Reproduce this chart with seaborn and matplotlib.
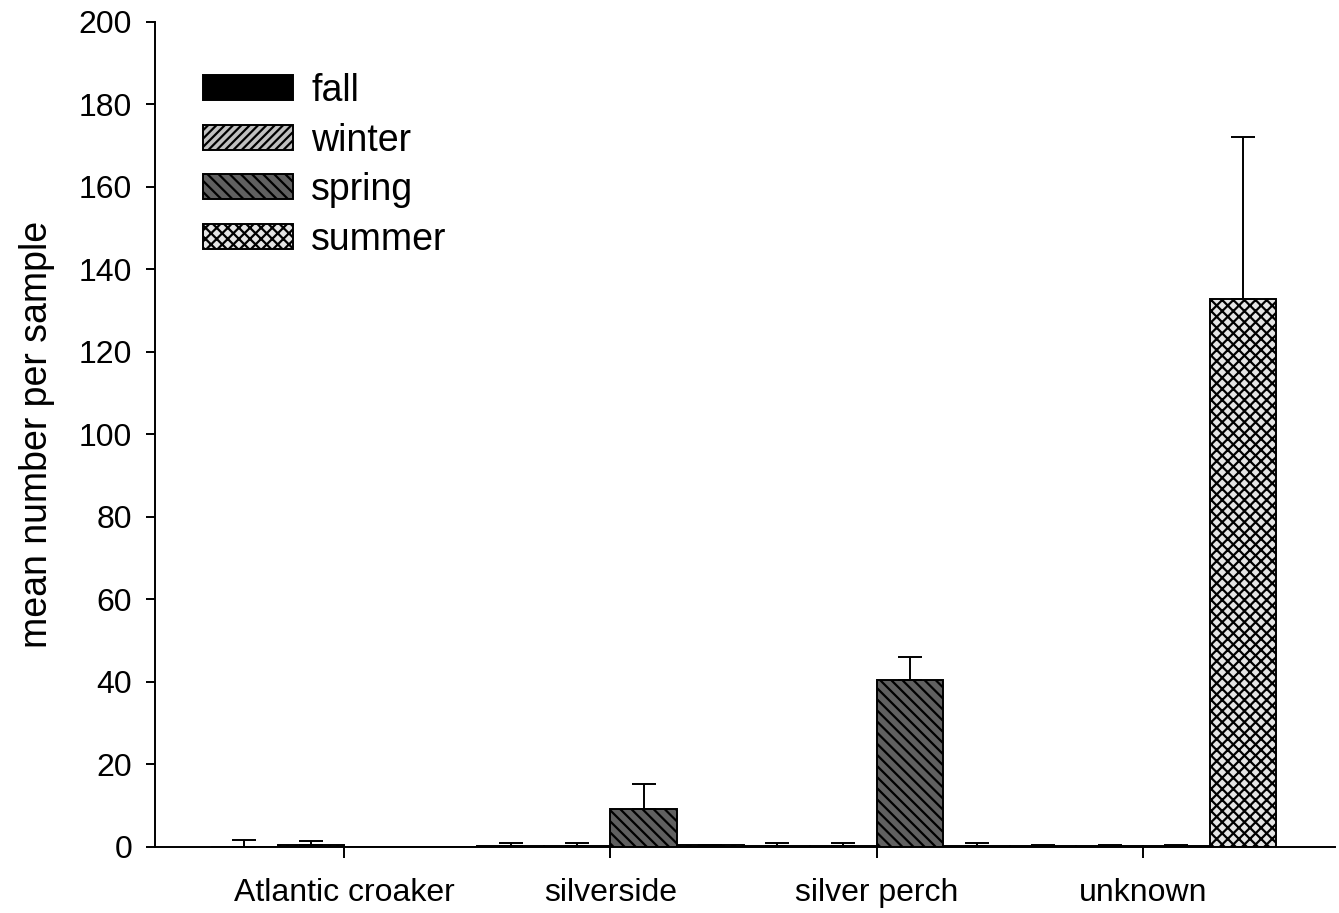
"""Seasonal mean abundance per sample by taxon (bars with upper SE)."""

import matplotlib
matplotlib.use("Agg")
import matplotlib.pyplot as plt
import numpy as np
import pandas as pd
import seaborn as sns

# --- data ---
species = ["Atlantic croaker", "silverside", "silver perch", "unknown"]
seasons = ["fall", "winter", "spring", "summer"]

fall_mean = [0.1, 0.2, 0.2, 0.3]
winter_mean = [0.4, 0.2, 0.2, 0.3]
spring_mean = [0.0, 9.2, 40.4, 0.3]
summer_mean = [0.0, 0.5, 0.2, 132.9]

fall_err = [1.6, 0.7, 0.8, 0.1]
winter_err = [1.0, 0.7, 0.8, 0.1]
spring_err = [np.nan, 6.0, 5.6, 0.1]
summer_err = [np.nan, 0.1, 0.8, 39.1]

yticks = list(range(0, 201, 20))

season_fill = {"fall": "#000000", "winter": "#c0c0c0",
               "spring": "#606060", "summer": "#e4e4e4"}
season_hatch = {"fall": "", "winter": "////", "spring": "\\\\\\",
                "summer": "xxx"}

sns.set_theme(style="ticks")
plt.rcParams["font.family"] = ["Liberation Sans", "DejaVu Sans"]
plt.rcParams["text.color"] = "black"
plt.rcParams["axes.labelcolor"] = "black"
plt.rcParams["xtick.color"] = "black"
plt.rcParams["ytick.color"] = "black"
plt.rcParams["hatch.linewidth"] = 1.6
plt.rcParams["hatch.color"] = "black"

means = [fall_mean, winter_mean, spring_mean, summer_mean]
errs = [fall_err, winter_err, spring_err, summer_err]
df = pd.DataFrame(
    [
        {"species": sp, "season": se, "mean": means[j][i], "err": errs[j][i]}
        for j, se in enumerate(seasons)
        for i, sp in enumerate(species)
    ]
)

fig = plt.figure(figsize=(13.39, 9.13), dpi=100)
ax = fig.add_axes([0.1158, 0.0723, 0.881, 0.9037])

sns.barplot(
    data=df, x="species", y="mean", hue="season",
    order=species, hue_order=seasons, palette=season_fill,
    errorbar=None, width=1.0, edgecolor="black", linewidth=1.4,
    saturation=1, ax=ax,
)

# hatches + upper error bars, on the bars seaborn placed
for season, cont in zip(seasons, ax.containers):
    sub = df[df["season"] == season].set_index("species").loc[species]
    xs, ys, es = [], [], []
    for bar, (_, row) in zip(cont.patches, sub.iterrows()):
        bar.set_hatch(season_hatch[season])
        if not np.isnan(row["err"]):
            xs.append(bar.get_x() + bar.get_width() / 2)
            ys.append(row["mean"])
            es.append(row["err"])
    ax.errorbar(xs, ys, yerr=[np.zeros(len(es)), es], fmt="none",
                ecolor="black", elinewidth=1.4, capsize=8.3, capthick=1.4)

ax.set_ylim(0, 200)
ax.set_xlim(-0.71, 3.72)
ax.set_yticks(yticks)
ax.set_xlabel("")
ax.set_ylabel("mean number per sample", fontsize=27, labelpad=17)
ax.tick_params(axis="both", labelsize=23, direction="out", width=1.4,
               color="black", labelcolor="black")
ax.tick_params(axis="y", length=6.5, pad=10)
ax.tick_params(axis="x", length=8, pad=14)
sns.despine(ax=ax)
for side in ("left", "bottom"):
    ax.spines[side].set_linewidth(1.4)
    ax.spines[side].set_color("black")

handles, labels = ax.get_legend_handles_labels()
for h, se in zip(handles, seasons):
    h.set_hatch(season_hatch[se])
ax.legend(handles, labels, loc="upper left", bbox_to_anchor=(0.0407, 0.938),
          frameon=False, fontsize=27, handlelength=2.4, handleheight=0.65,
          labelspacing=0.36, handletextpad=0.48, borderpad=0,
          borderaxespad=0)

fig.savefig("out.png", dpi=100)
